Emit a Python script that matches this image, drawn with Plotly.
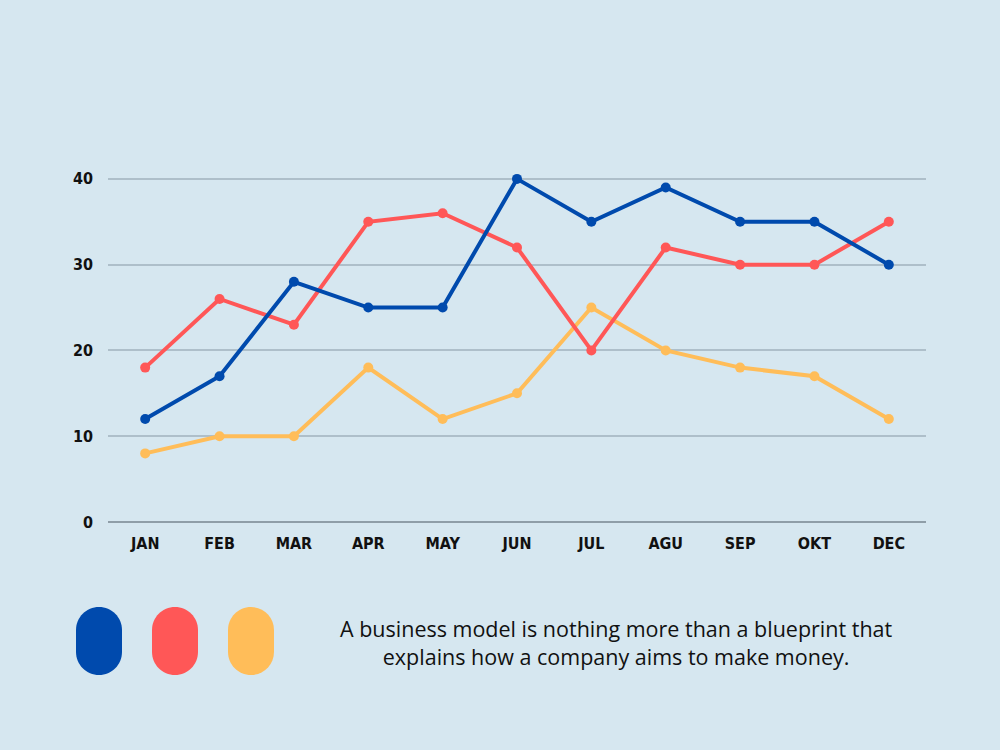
import plotly.graph_objects as go

months = ["JAN", "FEB", "MAR", "APR", "MAY", "JUN", "JUL", "AGU", "SEP", "OKT", "DEC"]
blue_vals = [12, 17, 28, 25, 25, 40, 35, 39, 35, 35, 30]
red_vals = [18, 26, 23, 35, 36, 32, 20, 32, 30, 30, 35]
yellow_vals = [8, 10, 10, 18, 12, 15, 25, 20, 18, 17, 12]
y_ticks = [0, 10, 20, 30, 40]
caption = "A business model is nothing more than a blueprint that<br>explains how a company aims to make money."

BLUE = "#004aad"
RED = "#ff5757"
YELLOW = "#ffbd59"
BG = "#d6e7f0"

fig = go.Figure()
for vals, col in [(yellow_vals, YELLOW), (red_vals, RED), (blue_vals, BLUE)]:
    fig.add_trace(go.Scatter(
        x=list(range(len(months))), y=vals, mode="lines+markers",
        line=dict(color=col, width=4),
        marker=dict(color=col, size=10),
        showlegend=False, hoverinfo="skip"))

tick_font = dict(family="DejaVu Sans Condensed, Liberation Sans Narrow, sans-serif",
                 size=16, color="#111111", weight="bold")

fig.update_layout(
    width=1000, height=750,
    paper_bgcolor=BG, plot_bgcolor=BG,
    margin=dict(l=108, r=74, t=136, b=228),
    xaxis=dict(range=[-0.5, 10.5], tickmode="array",
               tickvals=list(range(len(months))), ticktext=months,
               showgrid=False, zeroline=False, showline=False,
               ticks="", ticklabelstandoff=10, tickfont=tick_font, fixedrange=True),
    yaxis=dict(range=[0, 45], tickmode="array", tickvals=y_ticks,
               showgrid=True, gridcolor="#aebfca", gridwidth=1.5,
               zeroline=True, zerolinecolor="#8f9ea8", zerolinewidth=2,
               showline=False, ticks="", ticklabelstandoff=14,
               tickfont=tick_font, fixedrange=True),
)

# legend pills
pill = ("M -23,-11 L -23,11 C -23,23.7 -12.7,34 0,34 C 12.7,34 23,23.7 23,11 "
        "L 23,-11 C 23,-23.7 12.7,-34 0,-34 C -12.7,-34 -23,-23.7 -23,-11 Z")
plot_w = 1000 - 108 - 74
plot_h = 750 - 136 - 228
for cx, col in [(99, BLUE), (175, RED), (251, YELLOW)]:
    fig.add_shape(type="path", path=pill, xref="paper", yref="paper",
                  xsizemode="pixel", ysizemode="pixel",
                  xanchor=(cx - 108) / plot_w, yanchor=(522 - 641) / plot_h,
                  fillcolor=col, line=dict(width=0), layer="above")

fig.add_annotation(text=caption, xref="paper", yref="paper",
                   x=(616 - 108) / plot_w, y=(522 - 642) / plot_h,
                   xanchor="center", yanchor="middle", showarrow=False,
                   align="center",
                   font=dict(family="Open Sans, Noto Sans, sans-serif", size=21.5, color="#111111"))

fig.write_html("out.html")
